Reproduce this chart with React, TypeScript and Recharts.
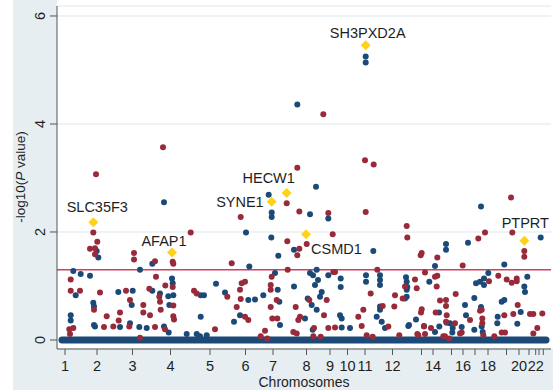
import { ScatterChart, Scatter, XAxis, YAxis, CartesianGrid, ReferenceLine, Label } from "recharts"

const BLUE = "#1c4a78"
const RED = "#982a3a"
const GOLD = "#ffd21a"
const FONT = "'Liberation Sans', Arial, sans-serif"

// chromosome ticks, in genome position units
const chrTickPos = [8, 40, 75.5, 113.5, 153, 188.5, 216, 249.5, 273, 290.5, 308, 335.5, 364.5, 376, 394.5, 406, 418, 431, 449.5, 462, 472, 478.7, 482, 486.3]
const chrTickLabel = ["1", "2", "3", "4", "5", "6", "7", "8", "9", "10", "11", "12", "", "14", "", "16", "", "18", "", "20", "", "22", "", ""]

const yTicks = [0, 2, 4, 6]
const threshold = 1.301

// dense band of non-significant SNPs at 0
const baselineSpan = [5, 489]

// [position, -log10 p]
const bluePoints: [number, number][] = [
  [107, 2.55], [39.7, 1.65], [41.3, 1.53], [95.3, 1.41], [16.3, 1.28], [23.7, 1.22], [33, 1.19], [83, 1.3],
  [115, 1.14], [115.7, 1.05], [18.7, 0.83], [61.3, 0.89], [75.7, 0.91], [95.3, 0.91], [103, 0.86], [111.3, 0.81],
  [116.3, 0.83], [36.3, 0.69], [37, 0.62], [74.7, 0.65], [112.3, 0.65], [13.7, 0.46], [13.7, 0.36], [73, 0.31],
  [37, 0.28], [38, 0.25], [63, 0.24], [82.3, 0.24], [89.7, 0.22], [107, 0.25], [111.7, 0.14], [129.7, 0.11],
  [139.7, 0.11], [240.3, 4.36], [259, 2.84], [211.7, 2.69], [214.7, 2.36], [214.7, 2.28], [253, 2.33], [271.3, 2.25],
  [308.7, 5.25], [308.7, 5.14], [189, 1.99], [214.3, 1.9], [237, 1.67], [221.3, 1.56], [316.3, 1.65], [192.3, 1.36],
  [218, 1.24], [259.7, 1.3], [256, 1.2], [261, 1.11], [253, 1.24], [258, 1.02], [159, 1.04], [237, 0.99],
  [143.7, 0.83], [147, 0.83], [168, 0.88], [191.3, 0.74], [198, 0.75], [206.3, 0.83], [220.7, 0.93], [222.3, 0.71],
  [250.7, 0.77], [254.7, 0.65], [183, 0.46], [143.7, 0.43], [177, 0.34], [223, 0.28], [248, 0.4], [143, 0.07],
  [149.7, 0.09], [255.7, 0.19], [271.3, 1.2], [283.7, 1.14], [283.7, 0.98], [309, 1.2], [309, 1.08], [323, 1.2],
  [323, 1.11], [323, 1.02], [349, 1.16], [349.7, 1.08], [350.3, 0.98], [372.3, 1.08], [378, 1.37], [348, 0.77],
  [264.7, 0.89], [263, 0.8], [259.7, 0.56], [283, 0.46], [284.7, 0.4], [323, 0.62], [323, 0.56], [319.7, 0.43],
  [324.7, 0.34], [328, 0.22], [359, 0.38], [351.3, 0.26], [284.7, 0.23], [293, 0.22], [424, 2.47], [411, 1.8],
  [483.7, 1.9], [389, 1.78], [389, 1.67], [447.3, 1.4], [431.3, 1.24], [427, 1.14], [423, 1.08], [419, 1.05],
  [427, 1.02], [470.3, 1.17], [467.3, 0.99], [468, 0.89], [417.3, 0.78], [444.7, 0.71], [447.3, 0.74], [463.7, 0.52],
  [408, 0.65], [409, 0.46], [440.7, 0.43], [440.3, 0.31], [460.3, 0.3], [393, 0.31], [395.7, 0.22], [395.3, 0.14],
  [417.3, 0.19], [424.7, 0.25], [425.7, 0.15], [349.7, 0.93], [349.7, 0.8], [382, 0.51], [352, 0.28], [367, 0.26],
  [378, 0.15], [382.3, 0.25], [389.7, 0.32], [404.7, 0.24], [424, 0.61],
]

const redPoints: [number, number][] = [
  [39, 3.07], [106, 3.57], [36.3, 1.99], [40.3, 1.82], [33, 1.69], [38, 1.7], [38, 1.59], [133.7, 1.99],
  [115.7, 1.45], [116.3, 1.41], [77, 1.61], [77, 1.49], [98, 1.46], [13.7, 1.12], [99, 1.17], [115.7, 0.98],
  [108.3, 1.01], [13.7, 0.91], [23, 0.91], [43, 0.88], [69, 0.91], [92.3, 0.95], [102.3, 0.8], [137, 0.91],
  [139.7, 0.86], [37, 0.56], [73, 0.74], [86.3, 0.65], [103, 0.71], [103.7, 0.56], [116.3, 0.64], [63, 0.51],
  [86.3, 0.51], [93, 0.46], [116.3, 0.44], [117, 0.38], [49.7, 0.44], [61.7, 0.36], [12.3, 0.2], [16.3, 0.22],
  [47, 0.24], [56.3, 0.25], [72.3, 0.25], [98, 0.24], [108, 0.2], [13, 0.11], [83, 0.04], [266.3, 4.18],
  [308, 3.33], [316.7, 3.25], [240.3, 3.19], [229.7, 2.53], [183.7, 2.28], [242.3, 2.38], [271.3, 2.35], [308.7, 2.37],
  [230.3, 1.83], [242.3, 1.69], [249.7, 1.78], [240.3, 1.57], [275.7, 1.96], [174.7, 1.42], [230.7, 1.3], [184.7, 1.05],
  [188, 1.08], [183, 0.93], [214.7, 1.17], [213.7, 1.02], [213.7, 0.93], [170.3, 0.8], [183.7, 0.76], [219.7, 0.74],
  [213.7, 0.61], [238.7, 0.61], [179.7, 0.61], [188, 0.43], [191.3, 0.37], [215.3, 0.4], [220.3, 0.4], [243, 0.43],
  [241.3, 0.37], [158, 0.2], [203.7, 0.07], [210.3, 0.03], [208, 0.17], [236.3, 0.15], [239.7, 0.12], [349.7, 2.11],
  [350.3, 1.9], [364.7, 1.61], [363.7, 1.57], [380.3, 1.53], [276.3, 1.26], [278, 1.26], [320.3, 1.3], [313.7, 0.86],
  [358, 1.12], [359.7, 0.96], [368, 1.25], [380.3, 1.19], [379.7, 0.99], [338, 0.83], [252.3, 0.74], [269.7, 0.74],
  [267, 0.46], [301.3, 0.43], [306.3, 0.56], [304.7, 0.26], [325.7, 0.63], [331.3, 0.25], [337.3, 0.62], [364.7, 0.57],
  [367, 0.25], [257, 0.22], [256.3, 0.07], [263.7, 0.06], [271.3, 0.22], [278, 0.23], [309.7, 0.09], [315.7, 0.06],
  [342.3, 0.09], [361.3, 0.09], [454, 2.64], [428, 1.99], [455.3, 1.99], [421.3, 1.88], [467.3, 1.65], [467.3, 1.54],
  [405.7, 1.38], [432, 1.09], [441.3, 1.19], [449.7, 1.12], [454.7, 1.06], [459.7, 1.14], [459.7, 1.09], [398.7, 0.85],
  [460.7, 0.65], [389, 0.74], [389, 0.63], [424.7, 0.56], [389.7, 0.46], [389, 0.34], [413, 0.37], [447.3, 0.46],
  [456.3, 0.48], [473, 0.48], [476.3, 0.48], [485.3, 0.49], [425.3, 0.4], [425.3, 0.31], [398, 0.31], [404.7, 0.14],
  [426.3, 0.09], [437.3, 0.07], [444.7, 0.14], [448, 0.14], [476.3, 0.12], [480.3, 0.22], [388, 0.07], [392.3, 0.03],
  [348, 0.99], [345.7, 0.77], [378, 1.17], [383, 0.73], [364, 0.51], [378.7, 0.51], [374, 0.22], [360.3, 0.11],
  [368, 0.11], [386.3, 0.07], [403, 0.12], [423, 0.54],
]

const hitGenes = ["SLC35F3", "AFAP1", "SYNE1", "HECW1", "CSMD1", "SH3PXD2A", "PTPRT"]
const hitPos = [36.3, 115, 214.7, 229.7, 249, 308.7, 467.3]
const hitY = [2.18, 1.62, 2.56, 2.72, 1.96, 5.46, 1.84]

// where each gene name sits relative to its diamond
const labelPlace: Record<string, { dx: number; dy: number; anchor: "start" | "middle" | "end" }> = {
  SLC35F3: { dx: 4, dy: -10, anchor: "middle" },
  AFAP1: { dx: -8, dy: -7, anchor: "middle" },
  SYNE1: { dx: -8, dy: 5, anchor: "end" },
  HECW1: { dx: -18, dy: -10, anchor: "middle" },
  CSMD1: { dx: 5, dy: 20, anchor: "start" },
  SH3PXD2A: { dx: 2, dy: -7, anchor: "middle" },
  PTPRT: { dx: 1, dy: -13, anchor: "middle" },
}

const blueData = bluePoints.map(([pos, y]) => ({ pos, y }))
const redData = redPoints.map(([pos, y]) => ({ pos, y }))
const hitData = hitGenes.map((gene, i) => ({ gene, pos: hitPos[i], y: hitY[i] }))
const baselineData = baselineSpan.map((pos) => ({ pos, y: 0 }))

function Dot(props: { cx?: number; cy?: number; fill?: string }) {
  const { cx, cy, fill } = props
  if (cx == null || cy == null) return null
  return <circle cx={cx} cy={cy} r={3} fill={fill} />
}

function Hit(props: { cx?: number; cy?: number; payload?: { gene: string } }) {
  const { cx, cy, payload } = props
  if (cx == null || cy == null || !payload) return null
  const s = 5
  const lp = labelPlace[payload.gene]
  return (
    <g>
      <polygon points={`${cx},${cy - s} ${cx + s},${cy} ${cx},${cy + s} ${cx - s},${cy}`} fill={GOLD} />
      <text x={cx + lp.dx} y={cy + lp.dy} textAnchor={lp.anchor} fontSize={14.5} fontFamily={FONT} fill="#1e1e1e">
        {payload.gene}
      </text>
    </g>
  )
}

function XTick(props: { x?: number; y?: number; index?: number }) {
  const { x = 0, y = 0, index = 0 } = props
  const label = chrTickLabel[index]
  if (!label) return null
  return (
    <text x={x} y={y + 13.5} textAnchor="middle" fontSize={14.5} fontFamily={FONT} fill="#1e1e1e">
      {label}
    </text>
  )
}

function YTick(props: { y?: number; payload?: { value: number } }) {
  const { y = 0, payload } = props
  const x = 45.5
  return (
    <text x={x} y={y} transform={`rotate(-90 ${x} ${y})`} textAnchor="middle" fontSize={14.5} fontFamily={FONT} fill="#1e1e1e">
      {payload?.value}
    </text>
  )
}

export default function App() {
  return (
    <div style={{ position: "fixed", left: 0, top: 0, width: 553, height: 392, background: "#fff" }}>
      <div style={{ position: "absolute", left: 13, top: 0, width: 44, height: 390, background: "#e6eef2" }} />
      <div style={{ position: "absolute", left: 13, top: 349, width: 540, height: 41, background: "#e6eef2" }} />
      <ScatterChart width={553} height={392} margin={{ top: 6, right: 2, bottom: 0, left: 0 }} style={{ position: "absolute", left: 0, top: 0 }}>
        <CartesianGrid vertical={false} stroke="#dde9ec" fill="#fff" />
        <XAxis
          type="number"
          dataKey="pos"
          domain={[0, 494]}
          ticks={chrTickPos}
          interval={0}
          allowDataOverflow
          height={43}
          tickSize={6}
          tick={<XTick />}
          axisLine={{ stroke: "#555" }}
          tickLine={{ stroke: "#555" }}
        >
          <Label
            content={() => (
              <text x={304} y={387} textAnchor="middle" fontSize={14} fontFamily={FONT} fill="#1e1e1e">
                Chromosomes
              </text>
            )}
          />
        </XAxis>
        <YAxis
          type="number"
          dataKey="y"
          domain={[-0.1667, 6.185]}
          ticks={yTicks}
          interval={0}
          allowDataOverflow
          width={57}
          tickSize={7}
          tick={<YTick />}
          axisLine={{ stroke: "#555" }}
          tickLine={{ stroke: "#555" }}
        >
          <Label
            content={() => (
              <text x={20} y={177} transform="rotate(-90 20 177)" textAnchor="middle" dominantBaseline="central" fontSize={13.5} fontFamily={FONT} fill="#1e1e1e">
                -log10(<tspan fontStyle="italic">P</tspan> value)
              </text>
            )}
          />
        </YAxis>
        <ReferenceLine y={threshold} stroke="#cf3f5f" strokeWidth={1.5} />
        <Scatter
          data={baselineData}
          line={{ stroke: BLUE, strokeWidth: 7, strokeLinecap: "round" }}
          shape={() => <g />}
          isAnimationActive={false}
        />
        <Scatter data={blueData} fill={BLUE} shape={<Dot />} isAnimationActive={false} />
        <Scatter data={redData} fill={RED} shape={<Dot />} isAnimationActive={false} />
        <Scatter data={hitData} shape={<Hit />} isAnimationActive={false} />
      </ScatterChart>
    </div>
  )
}
